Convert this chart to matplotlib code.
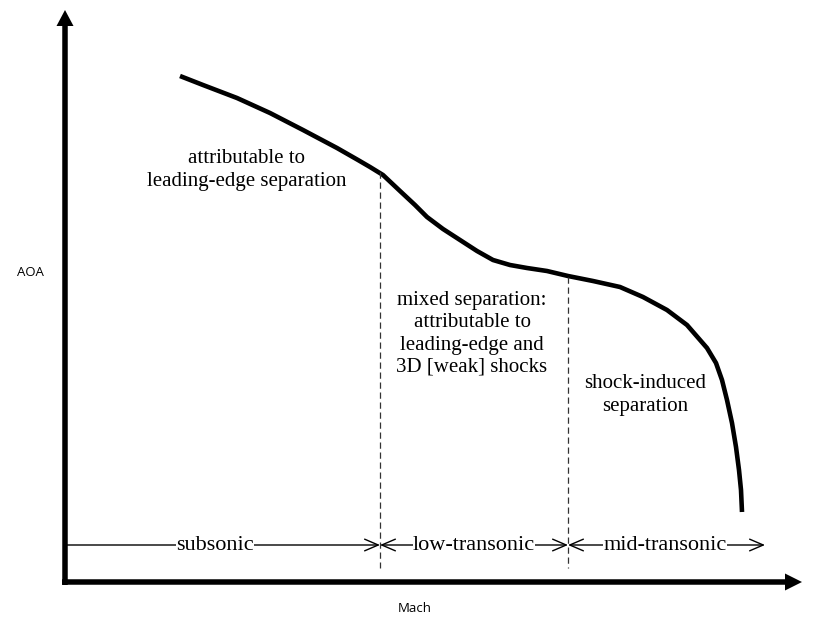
import matplotlib
matplotlib.use("Agg")
import matplotlib.pyplot as plt

# Figure-space coordinates (pixels, y measured upward from bottom)
W, H = 827, 635

# Curve: Mach (x) vs AOA (y) (pixel positions)
mach = [180, 203, 237, 270, 303, 337, 358, 370, 383, 400, 415, 427, 443, 460,
        477, 493, 510, 527, 547, 568, 593, 620, 643, 667, 687, 707, 716, 722,
        727, 732, 736, 739, 741, 742]
aoa_px = [76, 85, 98, 113, 130, 148, 160, 167, 175, 191, 205, 217, 229, 240,
          251, 260, 265, 268, 271, 276, 281, 287, 297, 310, 325, 348, 363, 380,
          400, 423, 447, 470, 490, 512]
aoa = [H - v for v in aoa_px]

# Regime boundaries (Mach positions) and their curve tops
boundaries = [380, 568]
boundary_tops = [H - 172, H - 277]

# Regime labels on the bottom arrow row
regimes = ["subsonic", "low-transonic", "mid-transonic"]
regime_spans = [(66, 380), (380, 568), (568, 765)]
regime_label_x = [215, 474, 665]

# Annotations
notes = ["attributable to\nleading-edge separation",
         "mixed separation:\nattributable to\nleading-edge and\n3D [weak] shocks",
         "shock-induced\nseparation"]
note_pos = [(247, H - 170), (472, H - 334), (645, H - 395)]

fig = plt.figure(figsize=(W / 100, H / 100), dpi=100)
ax = fig.add_axes([0, 0, 1, 1])
ax.set_xlim(0, W)
ax.set_ylim(0, H)
ax.axis("off")

serif = "Liberation Serif"

# Axes with filled arrow heads
x0, y0 = 65, H - 582
ax.arrow(x0, y0 - 3, 0, (H - 10) - (y0 - 3), width=5.5, head_width=17,
         head_length=16, length_includes_head=True, color="black", lw=0)
ax.arrow(x0 - 3, y0, 802 - (x0 - 3), 0, width=5.5, head_width=17,
         head_length=17, length_includes_head=True, color="black", lw=0)

# Curve
ax.plot(mach, aoa, color="black", lw=3.3, solid_capstyle="butt",
        solid_joinstyle="round")

# Dashed boundaries
row_y = H - 545
for bx, top in zip(boundaries, boundary_tops):
    ax.plot([bx, bx], [top, H - 568], color="#333333", lw=0.9,
            dashes=(5, 3))

# Bottom regime arrows
for i, (lbl, (a, b), cx) in enumerate(zip(regimes, regime_spans, regime_label_x)):
    style = "->" if i == 0 else "<->"
    ax.annotate("", xy=(b, row_y), xytext=(a, row_y),
                arrowprops=dict(arrowstyle=style + ",head_length=0.7,head_width=0.3",
                                lw=1.0, color="black", shrinkA=0, shrinkB=0,
                                mutation_scale=14))
    ax.text(cx, row_y, lbl, family=serif, fontsize=16, ha="center",
            va="center",
            bbox=dict(facecolor="white", edgecolor="none", pad=0.2))

for txt, (tx, ty) in zip(notes, note_pos):
    ax.text(tx, ty, txt, family=serif, fontsize=15, ha="center", va="center",
            linespacing=1.22)

ax.text(30, H - 272, "AOA", family="Open Sans", fontsize=9.5, ha="center",
        va="center")
ax.text(415, H - 608, "Mach", family="Open Sans", fontsize=9.5, ha="center",
        va="center")

fig.savefig("out.png", dpi=100)
